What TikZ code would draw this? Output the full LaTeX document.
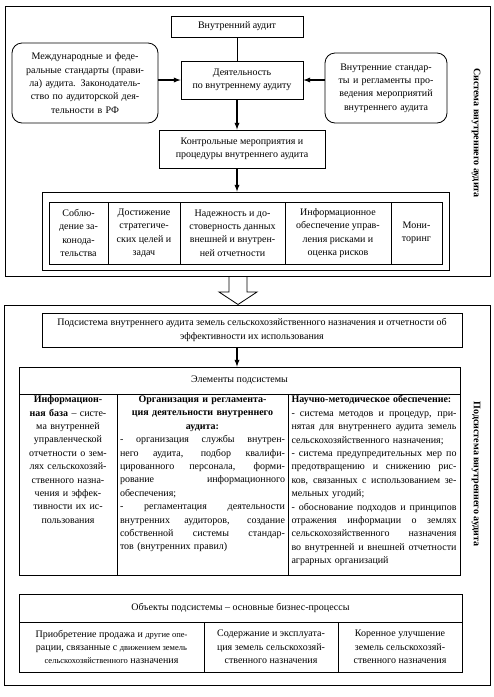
\documentclass[tikz,border=0pt]{standalone}
\usepackage{fontspec}
\setmainfont{Liberation Serif}
\usetikzlibrary{positioning}

\newcommand{\txtsize}{\fontsize{10}{13.4}\selectfont}
\newcommand{\smtxt}[1]{{\fontsize{8.5}{13.4}\selectfont #1}}
\newcommand{\jline}[1]{\leavevmode\hbox to 165pt{\spaceskip=0.25em plus 1fil\relax #1}}
\newcommand{\cenline}[1]{\makebox[165pt]{#1}}

\tikzset{
  box/.style={draw,line width=0.8pt,align=center,font=\txtsize,inner sep=2pt},
  rbox/.style={box,rounded corners=10pt},
  txt/.style={font=\txtsize,inner sep=2pt},
  frame/.style={draw,line width=0.8pt,inner sep=0pt},
  vlabel/.style={rotate=-90,font=\txtsize\bfseries,inner sep=0pt},
  arr/.style={->,line width=1.3pt}
}

\begin{document}
\begin{tikzpicture}[x=1pt,y=-1pt,>=latex]
  \useasboundingbox (0,0) rectangle (494,697);

  % system of internal audit
  \node[frame,minimum width=485,minimum height=270] (sys) at (247.5,141) {};
  \node[vlabel] (syslab) at (476,133) {Система внутреннего аудита};

  \node[box,minimum width=132,minimum height=21] (ia) at (237,26.5) {Внутренний аудит};
  \node[box,minimum width=122,minimum height=38] (act) at (242,80)
    {Деятельность\\по внутреннему аудиту};
  \node[rbox,minimum width=146,minimum height=80,text width=140] (intl) at (85,83)
    {Международные и феде-\\ральные стандарты (прави-\\ла) аудита. Законодатель-\\ство по аудиторской дея-\\тельности в РФ};
  \node[rbox,minimum width=122,minimum height=70,text width=116] (intst) at (386,88)
    {Внутренние стандар-\\ты и регламенты про-\\ведения мероприятий\\внутреннего аудита};
  \node[box,minimum width=166,minimum height=38] (ctrl) at (242,149)
    {Контрольные мероприятия и\\процедуры внутреннего аудита};

  \node[box,minimum width=407,minimum height=78] (grid) at (245.5,231) {};
  \node[box,minimum width=59,minimum height=62] (g1) at (78.5,233)
    {Соблю-\\дение за-\\конода-\\тельства};
  \node[box,minimum width=72,minimum height=62] (g2) at (144,233)
    {Достижение\\стратегиче-\\ских целей и\\задач};
  \node[box,minimum width=105,minimum height=62] (g3) at (232.5,233)
    {Надежность и до-\\стоверность данных\\внешней и внутрен-\\ней отчетности};
  \node[box,minimum width=106,minimum height=62] (g4) at (338,233)
    {Информационное\\обеспечение управ-\\ления рисками и\\оценка рисков};
  \node[box,minimum width=51,minimum height=62] (g5) at (416.5,233)
    {Мони-\\торинг};

  \draw (ia) -- (ia |- act.north);
  \draw[arr] (intl.east |- act) -- (act.west);
  \draw[arr] (intst.west |- act) -- (act.east);
  \draw[arr] (act.south -| ia) -- (ctrl.north -| ia);
  \draw[arr] (ctrl.south -| ia) -- (grid.north -| ia);

  % hollow arrow
  \draw[line width=0.8pt] (229,276.5) -- (229,292) -- (219,292) -- (238,304.5)
    -- (257,292) -- (247,292) -- (247,276.5);

  % subsystem
  \node[frame,minimum width=486,minimum height=380] (subsys) at (247,495) {};
  \node[vlabel] (sublab) at (476,474) {Подсистема внутреннего аудита};

  \node[box,minimum width=420,minimum height=34] (sub) at (252,330)
    {Подсистема внутреннего аудита земель сельскохозяйственного назначения и отчетности об\\эффективности их использования};
  \node[box,minimum width=441,minimum height=27] (elh) at (239.5,380.5) {Элементы подсистемы};
  \draw[arr] (sub.south -| ia) -- (elh.north -| ia);

  \node[box,minimum width=98,minimum height=181] (e1) at (68,484.5) {};
  \node[box,minimum width=171,minimum height=181] (e2) at (202.5,484.5) {};
  \node[box,minimum width=172,minimum height=181] (e3) at (374,484.5) {};
  \node[txt,anchor=north,text width=94,align=center] (e1t) at (e1.north)
    {\textbf{Информацион-}\\\textbf{ная база} – систе-\\ма внутренней\\управленческой\\отчетности о зем-\\лях сельскохозяй-\\ственного назна-\\чения и эффек-\\тивности их ис-\\пользования};
  \node[txt,anchor=north,text width=165,align=left] (e2t) at (e2.north)
    {\cenline{\bfseries Организация и регламента-}\\
     \cenline{\bfseries ция деятельности внутреннего}\\
     \cenline{\bfseries аудита:}\\
     \jline{- организация службы внутрен-}\\
     \jline{него аудита, подбор квалифи-}\\
     \jline{цированного персонала, форми-}\\
     \jline{рование информационного}\\
     обеспечения;\\
     \jline{- регламентация деятельности}\\
     \jline{внутренних аудиторов, создание}\\
     \jline{собственной системы стандар-}\\
     тов (внутренних правил)};
  \node[txt,anchor=north,text width=165,align=left] (e3t) at (e3.north)
    {\textbf{Научно-методическое обеспечение:}\\
     \jline{- система методов и процедур, при-}\\
     \jline{нятая для внутреннего аудита земель}\\
     сельскохозяйственного назначения;\\
     \jline{- система предупредительных мер по}\\
     \jline{предотвращению и снижению рис-}\\
     \jline{ков, связанных с использованием зе-}\\
     мельных угодий;\\
     \jline{- обоснование подходов и принципов}\\
     \jline{отражения информации о землях}\\
     \jline{сельскохозяйственного назначения}\\
     \jline{во внутренней и внешней отчетности}\\
     аграрных организаций};

  \node[box,minimum width=443,minimum height=28] (oh) at (240.5,608)
    {Объекты подсистемы – основные бизнес-процессы};
  \node[box,minimum width=185,minimum height=50] (o1) at (111.5,647)
    {Приобретение продажа и \smtxt{другие опе-}\\рации, связанные с \smtxt{движением земель}\\\smtxt{сельскохозяйственного} назначения};
  \node[box,minimum width=134,minimum height=50] (o2) at (271,647)
    {Содержание и эксплуата-\\ция земель сельскохозяй-\\ственного назначения};
  \node[box,minimum width=124,minimum height=50] (o3) at (400,647)
    {Коренное улучшение\\земель сельскохозяй-\\ственного назначения};
\end{tikzpicture}
\end{document}
